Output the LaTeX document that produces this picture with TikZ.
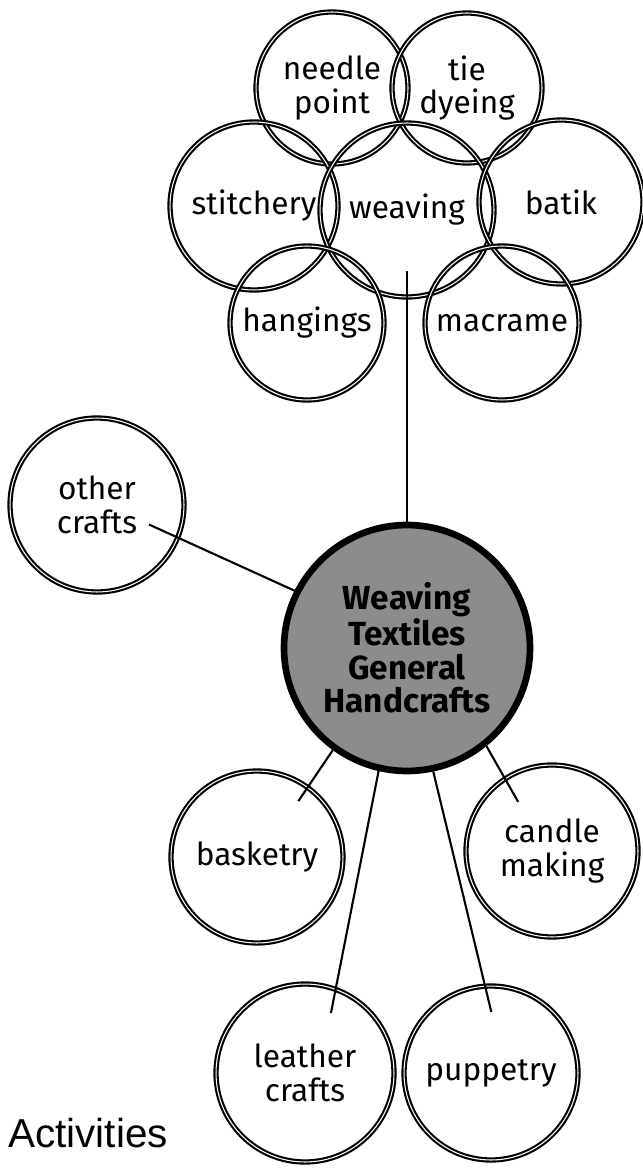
\documentclass[tikz,border=0pt]{standalone}
\usepackage{fontspec}
\setmainfont{Fira Sans}
\newfontfamily\captionfont{Liberation Sans}
\usetikzlibrary{calc}

\begin{document}
\begin{tikzpicture}[x=0.02cm, y=-0.02cm,
  craft/.style={circle, draw, double, double distance=0.6pt, line width=1.2pt,
    inner sep=0pt, align=center, font=\fontsize{18}{19}\selectfont},
  hubnode/.style={circle, draw, line width=3.8pt, fill=black!45, inner sep=0pt,
    align=center, font=\bfseries\fontsize{19}{19}\selectfont},
  link/.style={line width=1.2pt}]
  \useasboundingbox (0,0) rectangle (642,1168);

  % weaving cluster
  \node (needle) [craft, minimum size=3.04cm] at (332,88) {needle\\point};
  \node (tie) [craft, minimum size=3.0cm] at (467,88) {tie\\dyeing};
  \node (stitchery) [craft, minimum size=3.36cm] at (254,206) {stitchery};
  \node (weaving) [craft, minimum size=3.48cm] at (407,210) {weaving};
  \node (batik) [craft, minimum size=3.28cm] at (561,202) {batik};
  \node (hangings) [craft, minimum size=3.08cm] at (307,323) {hangings};
  \node (macrame) [craft, minimum size=3.08cm] at (502,323) {macrame};

  % centre and the other crafts
  \node (hub) [hubnode, minimum size=4.92cm] at (407,648)
    {Weaving\\Textiles\\General\\Handcrafts};
  \node (other) [craft, minimum size=3.48cm] at (97,505) {other\\crafts};
  \node (basketry) [craft, minimum size=3.44cm] at (257,857) {basketry};
  \node (candle) [craft, minimum size=3.44cm] at (552,851) {candle\\making};
  \node (leather) [craft, minimum size=3.56cm] at (305,1073) {leather\\crafts};
  \node (puppetry) [craft, minimum size=3.48cm] at (491,1073) {puppetry};

  \node (title) [font=\captionfont\fontsize{23}{24}\selectfont] at (88,1133) {Activities};

  \draw[link, shorten <=-0.55cm] (weaving.south) -- (hub.north);
  \draw[link, shorten >=-0.65cm] (hub.153) -- (other.-22);
  \draw[link, shorten >=-0.35cm] (hub.-126) -- (basketry.54);
  \draw[link, shorten >=-0.55cm] (hub.-51) -- (candle.123);
  \draw[link, shorten >=-0.5cm] (hub.-103) -- (leather.70);
  \draw[link, shorten >=-0.55cm] (hub.-78) -- (puppetry.94);
\end{tikzpicture}
\end{document}
